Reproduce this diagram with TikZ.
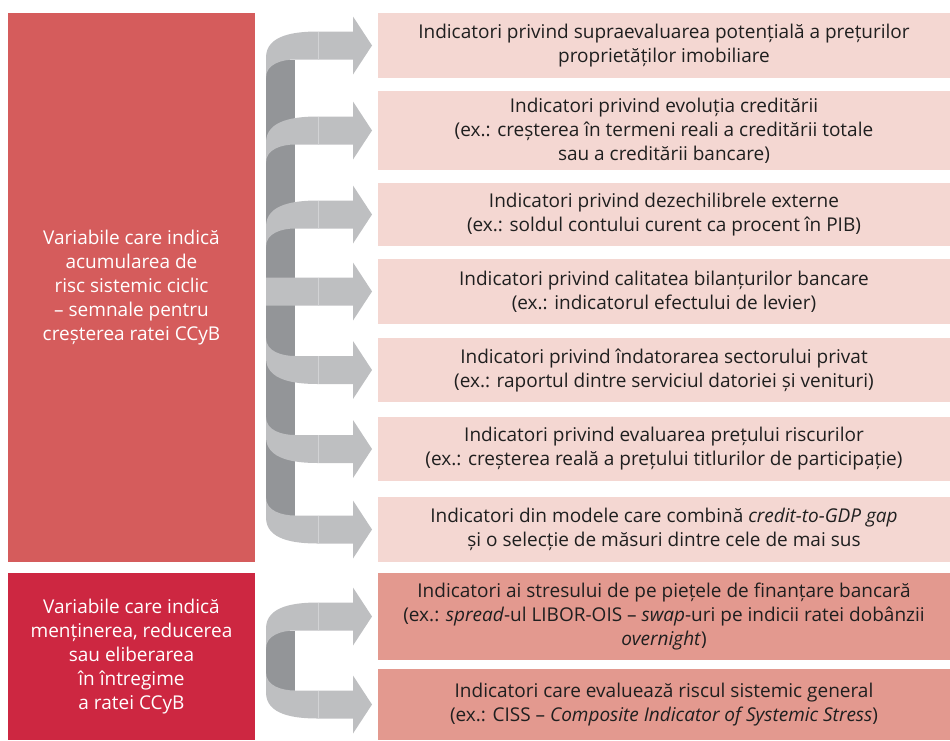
\documentclass[tikz,border=0pt]{standalone}
\usepackage{fontspec}
\setmainfont{Open Sans}

\definecolor{riskred}{HTML}{D55C5C}
\definecolor{releasered}{HTML}{CD2741}
\definecolor{palepink}{HTML}{F4D7D2}
\definecolor{rosepink}{HTML}{E3998F}
\definecolor{arrowgray}{HTML}{BEBFC1}
\definecolor{bargray}{HTML}{939598}
\definecolor{seamgray}{HTML}{D2D3D5}

% block arrows leaving the bar; #1 is the y of the shaft
\newcommand{\bandDown}[1]{%
  \fill[arrowgray] (266,#1+12) to[out=90,in=180] (318,#1-14) -- (353,#1-14)
    -- (353,#1-29) -- (372,#1) -- (353,#1+29) -- (353,#1+14) -- (295,#1+14)
    to[out=180,in=90] (266,#1+32) -- cycle;
  \draw[seamgray,line width=0.6pt] (318,#1-14) -- (318,#1+14);}
\newcommand{\bandUp}[1]{%
  \fill[arrowgray] (266,#1-12) to[out=-90,in=180] (318,#1+14) -- (353,#1+14)
    -- (353,#1+29) -- (372,#1) -- (353,#1-29) -- (353,#1-14) -- (295,#1-14)
    to[out=180,in=-90] (266,#1-32) -- cycle;
  \draw[seamgray,line width=0.6pt] (318,#1-14) -- (318,#1+14);}
\newcommand{\bandFlat}[1]{%
  \fill[arrowgray] (266,#1-14) -- (353,#1-14) -- (353,#1-29) -- (372,#1)
    -- (353,#1+29) -- (353,#1+14) -- (266,#1+14) -- cycle;
  \draw[seamgray,line width=0.6pt] (318,#1-14) -- (318,#1+14);}

\begin{document}
\begin{tikzpicture}[x=1pt,y=-1pt,
  font=\fontsize{19}{24}\selectfont,
  leftbox/.style={fill=#1, text=white, align=center, minimum width=247pt, inner sep=0pt},
  rightbox/.style={fill=#1, text=black!88, align=center, minimum width=572pt, inner sep=0pt}]
  \useasboundingbox (0,0) rectangle (950,740);

  % variable groups
  \node[leftbox=riskred, minimum height=549pt] (cyclic) at (131.5,287.5)
    {Variabile care indică\\ acumularea de\\ risc sistemic ciclic\\ – semnale pentru\\ creșterea ratei CCyB};
  \node[leftbox=releasered, minimum height=167pt] (release) at (131.5,656.5)
    {Variabile care indică\\ menținerea, reducerea\\ sau eliberarea\\ în întregime\\ a ratei CCyB};

  % indicators
  \node[rightbox=palepink, minimum height=65pt] (prices) at (664,45.5)
    {Indicatori privind supraevaluarea potențială a prețurilor\\ proprietăților imobiliare};
  \node[rightbox=palepink, minimum height=79pt] (credit) at (664,130.5)
    {Indicatori privind evoluția creditării\\ (ex.: creșterea în termeni reali a creditării totale\\ sau a creditării bancare)};
  \node[rightbox=palepink, minimum height=63pt] (external) at (664,214.5)
    {Indicatori privind dezechilibrele externe\\ (ex.: soldul contului curent ca procent în PIB)};
  \node[rightbox=palepink, minimum height=65pt] (balance) at (664,291.5)
    {Indicatori privind calitatea bilanțurilor bancare\\ (ex.: indicatorul efectului de levier)};
  \node[rightbox=palepink, minimum height=64pt] (debt) at (664,370)
    {Indicatori privind îndatorarea sectorului privat\\ (ex.: raportul dintre serviciul datoriei și venituri)};
  \node[rightbox=palepink, minimum height=64pt] (pricing) at (664,449)
    {Indicatori privind evaluarea prețului riscurilor\\ (ex.: creșterea reală a prețului titlurilor de participație)};
  \node[rightbox=palepink, minimum height=65pt] (models) at (664,529.5)
    {Indicatori din modele care combină \textit{credit-to-GDP gap}\\ și o selecție de măsuri dintre cele de mai sus};
  \node[rightbox=rosepink, minimum height=87pt] (funding) at (664,616.5)
    {Indicatori ai stresului de pe piețele de finanțare bancară\\ (ex.: \textit{spread}-ul LIBOR-OIS – \textit{swap}-uri pe indicii ratei dobânzii\\ \textit{overnight})};
  \node[rightbox=rosepink, minimum height=71pt] (ciss) at (664,704.5)
    {Indicatori care evaluează riscul sistemic general\\ (ex.: CISS – \textit{Composite Indicator of Systemic Stress})};

  % bars behind the arrows
  \fill[bargray] (266,59.5) rectangle (295,515.5);
  \fill[bargray] (266,630.5) rectangle (295,690.5);

  \foreach \yc in {45.5,130.5,214.5} {\bandDown{\yc}}
  \bandFlat{291.5}
  \foreach \yc in {370,449,529.5} {\bandUp{\yc}}
  \bandDown{616.5}
  \bandUp{704.5}
\end{tikzpicture}
\end{document}
